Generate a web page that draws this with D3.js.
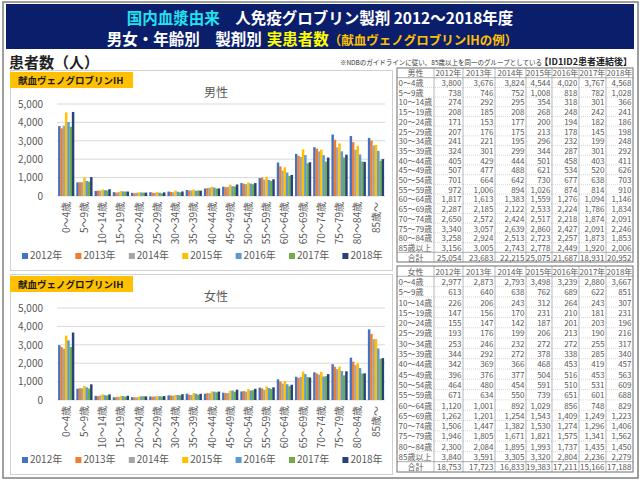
<!DOCTYPE html>
<html>
<head>
<meta charset="utf-8">
<script src="https://cdn.jsdelivr.net/npm/d3@7"></script>
<style>
  body { margin: 0; background: #fff; }
  svg { display: block; }
  text { font-family: "Noto Sans CJK JP", "Noto Sans", sans-serif; }
</style>
</head>
<body>
<svg id="chart" width="642" height="484"></svg>
<script>
// age groups (chart axis and table rows)
const ages = ['0～4歳', '5～9歳', '10～14歳', '15～19歳', '20～24歳', '25～29歳', '30～34歳', '35～39歳',
  '40～44歳', '45～49歳', '50～54歳', '55～59歳', '60～64歳', '65～69歳', '70～74歳', '75～79歳', '80～84歳', '85歳～'];
const tableAges = ['0～4歳', '5～9歳', '10～14歳', '15～19歳', '20～24歳', '25～29歳', '30～34歳', '35～39歳',
  '40～44歳', '45～49歳', '50～54歳', '55～59歳', '60～64歳', '65～69歳', '70～74歳', '75～79歳', '80～84歳', '85歳以上'];
const years = ['2012年', '2013年', '2014年', '2015年', '2016年', '2017年', '2018年'];
const colors = ['#4472C4', '#ED7D31', '#A5A5A5', '#FFC000', '#5B9BD5', '#70AD47', '#264478'];
const yTicks = [0, 1000, 2000, 3000, 4000, 5000];

// 男性 patients per age group, one array per year
const male2012 = [3800, 738, 274, 208, 171, 207, 241, 324, 405, 507, 701, 972, 1817, 2287, 2650, 3340, 3258, 3156];
const male2013 = [3676, 746, 292, 185, 153, 176, 221, 301, 429, 477, 664, 1006, 1613, 2185, 2572, 3057, 2924, 3005];
const male2014 = [3824, 752, 295, 208, 177, 175, 195, 299, 444, 488, 642, 894, 1383, 2122, 2424, 2639, 2513, 2743];
const male2015 = [4544, 1008, 354, 268, 200, 213, 296, 344, 501, 621, 730, 1026, 1559, 2533, 2517, 2860, 2723, 2778];
const male2016 = [4020, 818, 318, 248, 194, 178, 232, 287, 458, 534, 677, 874, 1276, 2224, 2218, 2427, 2257, 2449];
const male2017 = [3767, 782, 301, 242, 182, 145, 199, 301, 403, 520, 638, 814, 1094, 1786, 1874, 2091, 1873, 1920];
const male2018 = [4568, 1028, 366, 241, 186, 198, 248, 292, 411, 626, 703, 910, 1146, 1834, 2091, 2246, 1853, 2006];
const maleTotal = [25054, 23683, 22215, 25075, 21687, 18931, 20952];

// 女性 patients per age group, one array per year
const female2012 = [2977, 613, 226, 147, 155, 193, 253, 344, 342, 396, 464, 671, 1120, 1262, 1506, 1946, 2300, 3840];
const female2013 = [2873, 640, 206, 156, 147, 176, 246, 292, 369, 376, 480, 634, 1001, 1201, 1447, 1805, 2084, 3591];
const female2014 = [2793, 638, 243, 170, 142, 199, 232, 272, 366, 377, 454, 550, 892, 1254, 1382, 1671, 1895, 3305];
const female2015 = [3498, 762, 312, 231, 187, 206, 272, 378, 468, 504, 591, 739, 1029, 1543, 1530, 1821, 1993, 3320];
const female2016 = [3239, 689, 264, 210, 201, 213, 272, 338, 453, 516, 510, 651, 856, 1409, 1274, 1575, 1737, 2804];
const female2017 = [2880, 622, 243, 181, 203, 190, 255, 285, 419, 453, 531, 601, 748, 1249, 1296, 1341, 1435, 2236];
const female2018 = [3667, 851, 307, 231, 196, 216, 317, 340, 457, 563, 609, 688, 829, 1223, 1406, 1562, 1450, 2279];
const femaleTotal = [18753, 17723, 16833, 19383, 17211, 15166, 17188];

const maleSeries = [male2012, male2013, male2014, male2015, male2016, male2017, male2018];
const femaleSeries = [female2012, female2013, female2014, female2015, female2016, female2017, female2018];

const svg = d3.select('#chart');
const fmt = d3.format(',');
const grey = '#595959';

// outer frame + title banner
svg.append('rect').attr('x', 3).attr('y', 2).attr('width', 635).attr('height', 476)
  .attr('fill', 'none').attr('stroke', '#7f7f7f').attr('stroke-width', 1.5);
svg.append('rect').attr('x', 6).attr('y', 4).attr('width', 628).attr('height', 45).attr('fill', '#0b1e6b');

// lay out coloured pieces of a line one after another, centred on cx
function pieceLine(pieces, cx, baseline) {
  const nodes = pieces.map(p => svg.append('text').attr('y', baseline)
    .attr('font-size', p.size).attr('font-weight', 'bold').attr('fill', p.color).text(p.text));
  const widths = nodes.map((n, i) => n.node().getComputedTextLength() + (pieces[i].gap || 0));
  let xPos = cx - d3.sum(widths) / 2;
  nodes.forEach((n, i) => { n.attr('x', xPos); xPos += widths[i]; });
}
pieceLine([
  { text: '国内血漿由来', color: '#22e2f0', size: 15.5 },
  { text: '　人免疫グロブリン製剤 2012～2018年度', color: '#fff', size: 15.5 }
], 320, 23.5);
pieceLine([
  { text: '男女・年齢別　製剤別', color: '#fff', size: 15.5, gap: 5 },
  { text: '実患者数', color: '#ffff00', size: 15.5 },
  { text: '（献血ヴェノグロブリンIHの例）', color: '#ffc000', size: 12.5 }
], 312, 45);

svg.append('text').attr('x', 9).attr('y', 68).attr('font-size', 15).attr('font-weight', 'bold')
  .attr('fill', '#222').text('患者数（人）');
svg.append('text').attr('x', 542).attr('y', 65).attr('text-anchor', 'end').attr('fill', '#333')
  .attr('font-size', 6.5).text('※NDBのガイドラインに従い、85歳以上を同一のグループとしている');
svg.append('text').attr('x', 632).attr('y', 65).attr('text-anchor', 'end').attr('fill', '#222')
  .attr('font-size', 9).attr('font-weight', 'bold').text('【ID1ID2患者連結後】');

function drawChart(series, title, top) {
  const panelH = 200;
  const y0 = top + 126, y1 = top + 34;
  const g = svg.append('g');

  g.append('rect').attr('x', 10.5).attr('y', top + 0.5).attr('width', 382).attr('height', panelH)
    .attr('fill', '#fff').attr('stroke', '#d0d0d0');

  const x = d3.scaleBand().domain(ages).range([57, 385]).paddingInner(0.12).paddingOuter(0.06);
  const xIn = d3.scaleBand().domain(years).range([0, x.bandwidth()]);
  const y = d3.scaleLinear().domain([0, 5000]).range([y0, y1]);

  // gridlines
  g.append('g').selectAll('line').data(yTicks).join('line')
    .attr('x1', 57).attr('x2', 385)
    .attr('y1', d => y(d)).attr('y2', d => y(d))
    .attr('stroke', '#d9d9d9').attr('stroke-width', 1);

  const yAxis = g.append('g').attr('transform', 'translate(46,0)')
    .call(d3.axisLeft(y).tickValues(yTicks).tickFormat(fmt).tickSize(0));
  yAxis.select('.domain').remove();
  yAxis.selectAll('text').attr('font-size', 10).attr('fill', grey)
    .attr('font-family', '"Noto Sans CJK JP", sans-serif');

  // bars
  years.forEach((yr, i) => {
    g.append('g').selectAll('rect').data(series[i]).join('rect')
      .attr('x', (d, k) => x(ages[k]) + xIn(yr))
      .attr('y', d => y(d))
      .attr('width', xIn.bandwidth() + 0.2)
      .attr('height', d => y0 - y(d))
      .attr('fill', colors[i]);
  });

  // rotated category labels
  g.append('g').selectAll('text').data(ages).join('text')
    .attr('transform', d => `translate(${x(d) + x.bandwidth() / 2 + 1},${y0 + 6}) rotate(-90)`)
    .attr('text-anchor', 'end').attr('dominant-baseline', 'middle')
    .attr('font-size', 10).attr('fill', grey).text(d => d);

  // chart title and product label
  g.append('text').attr('x', 216).attr('y', top + 27).attr('text-anchor', 'middle')
    .attr('font-size', 12).attr('fill', grey).text(title);
  g.append('rect').attr('x', 10).attr('y', top + 2).attr('width', 123).attr('height', 16).attr('fill', '#ffc000');
  g.append('text').attr('x', 18).attr('y', top + 14).attr('font-size', 9.5).attr('font-weight', 'bold')
    .attr('fill', '#1a1a1a').text('献血ヴェノグロブリンIH');

  // legend
  const leg = g.append('g').selectAll('g').data(years).join('g')
    .attr('transform', (d, i) => `translate(${22 + i * 53.4},${top + 186})`);
  leg.append('rect').attr('x', 0).attr('y', -3).attr('width', 6).attr('height', 6)
    .attr('fill', (d, i) => colors[i]);
  leg.append('text').attr('x', 8).attr('y', 0).attr('dominant-baseline', 'middle')
    .attr('font-size', 10).attr('fill', grey).text(d => d);
}

drawChart(maleSeries, '男性', 70);
drawChart(femaleSeries, '女性', 274);

const colEdges = [397, 434, 463, 495, 526, 552, 579, 606, 633];

function drawTable(series, totals, head, top, rowH) {
  const g = svg.append('g');
  const nRows = tableAges.length + 2;
  const bottom = top + nRows * rowH;
  const rowY = i => top + i * rowH;

  // horizontal lines
  g.append('g').selectAll('line').data(d3.range(1, nRows)).join('line')
    .attr('x1', colEdges[0]).attr('x2', colEdges[colEdges.length - 1])
    .attr('y1', i => rowY(i)).attr('y2', i => rowY(i))
    .attr('stroke', i => (i === 1 || i === nRows - 1) ? '#8c8c8c' : '#c8c8c8')
    .attr('stroke-dasharray', i => (i === 1 || i === nRows - 1) ? null : '1,1')
    .attr('stroke-width', 0.7);
  // vertical lines
  g.append('g').selectAll('line').data(colEdges.slice(1, -1)).join('line')
    .attr('x1', d => d).attr('x2', d => d).attr('y1', top).attr('y2', bottom)
    .attr('stroke', '#9a9a9a').attr('stroke-width', 0.7);
  g.append('rect').attr('x', colEdges[0]).attr('y', top)
    .attr('width', colEdges[colEdges.length - 1] - colEdges[0]).attr('height', bottom - top)
    .attr('fill', 'none').attr('stroke', '#6f6f6f').attr('stroke-width', 1);

  const fs = 8;
  const mid = i => rowY(i) + rowH / 2;
  // header
  g.append('text').attr('x', (colEdges[0] + colEdges[1]) / 2).attr('y', mid(0))
    .attr('text-anchor', 'middle').attr('dominant-baseline', 'central')
    .attr('font-size', fs).attr('fill', grey).text(head);
  g.append('g').selectAll('text').data(years).join('text')
    .attr('x', (d, j) => (colEdges[j + 1] + colEdges[j + 2]) / 2).attr('y', mid(0))
    .attr('text-anchor', 'middle').attr('dominant-baseline', 'central')
    .attr('font-size', fs).attr('fill', grey).text(d => d);
  // age rows
  g.append('g').selectAll('text').data(tableAges).join('text')
    .attr('x', colEdges[0] + 1.5).attr('y', (d, i) => mid(i + 1))
    .attr('dominant-baseline', 'central').attr('font-size', fs).attr('fill', grey).text(d => d);
  series.forEach((vals, j) => {
    g.append('g').selectAll('text').data(vals.concat([totals[j]])).join('text')
      .attr('x', colEdges[j + 2] - 1.5).attr('y', (d, i) => mid(i + 1))
      .attr('text-anchor', 'end').attr('dominant-baseline', 'central')
      .attr('font-size', fs).attr('fill', grey).text(d => fmt(d));
  });
  g.append('text').attr('x', (colEdges[0] + colEdges[1]) / 2).attr('y', mid(nRows - 1))
    .attr('text-anchor', 'middle').attr('dominant-baseline', 'central')
    .attr('font-size', fs).attr('fill', grey).text('合計');
}

drawTable(maleSeries, maleTotal, '男性', 68, 9.7);
drawTable(femaleSeries, femaleTotal, '女性', 266, 10.3);
</script>
</body>
</html>
